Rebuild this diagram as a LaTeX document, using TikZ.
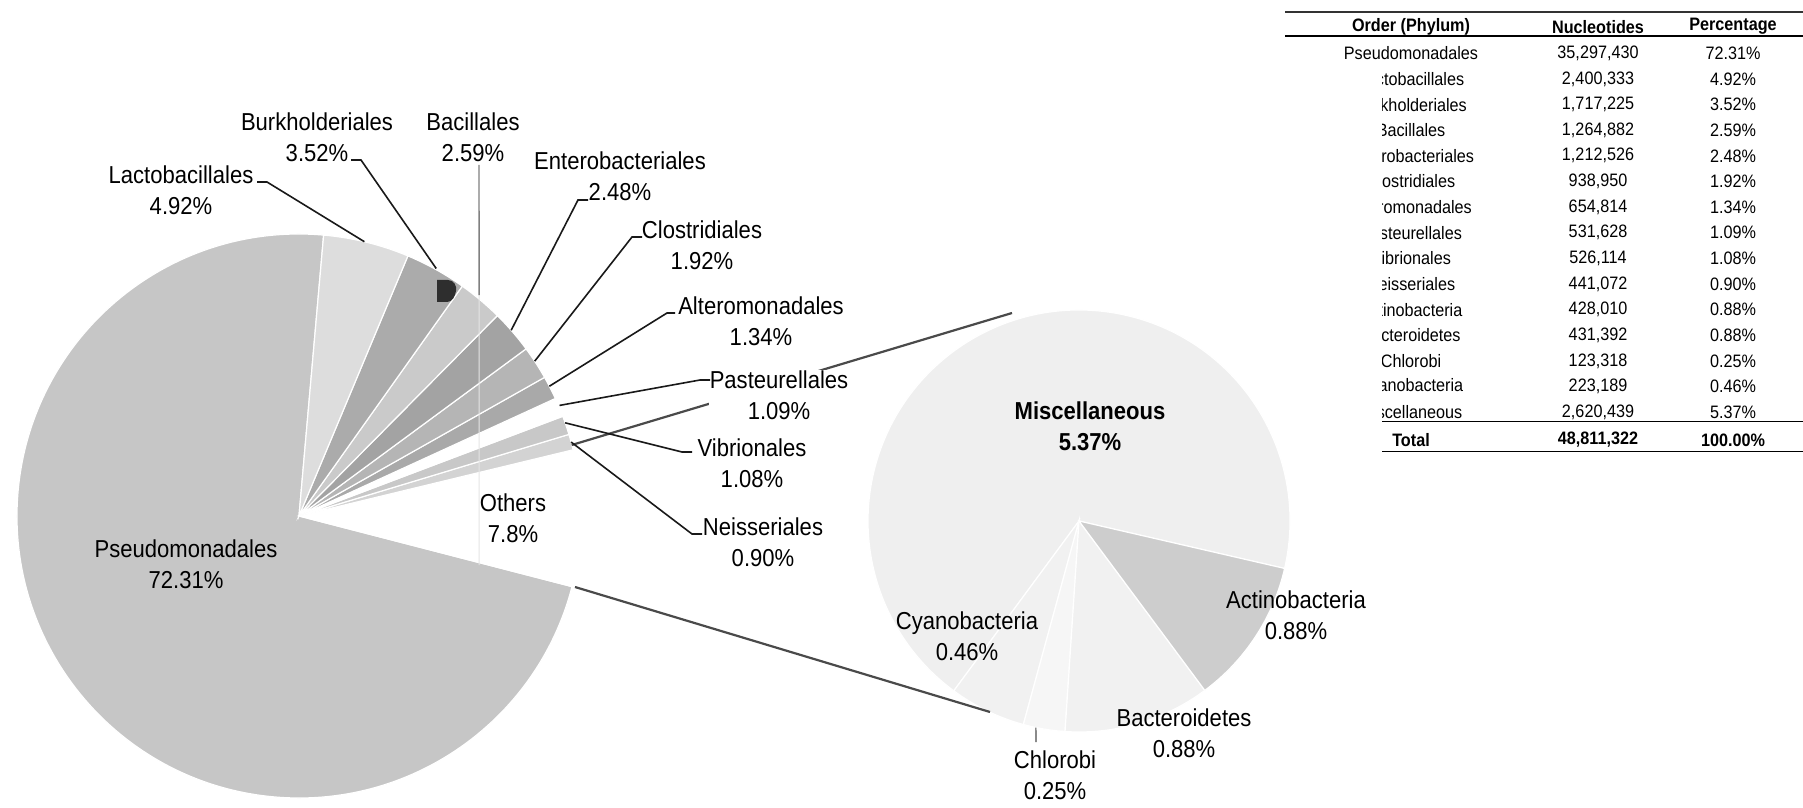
\documentclass[tikz,border=0pt]{standalone}
\usepackage{fontspec}
\setmainfont{Liberation Sans}[FakeStretch=0.9]
\usetikzlibrary{positioning}

\definecolor{pseudoGray}{HTML}{C6C6C6}
\definecolor{lactoGray}{HTML}{DDDDDD}
\definecolor{burkGray}{HTML}{ABABAB}
\definecolor{bacGray}{HTML}{CACACA}
\definecolor{enteroGray}{HTML}{A3A3A3}
\definecolor{clostGray}{HTML}{B5B5B5}
\definecolor{alteroGray}{HTML}{A9A9A9}
\definecolor{vibrioGray}{HTML}{C8C8C8}
\definecolor{neissGray}{HTML}{D3D3D3}
\definecolor{miscGray}{HTML}{EFEFEF}
\definecolor{cyanoGray}{HTML}{F1F1F1}
\definecolor{chlorGray}{HTML}{F6F6F6}
\definecolor{bactGray}{HTML}{F1F1F1}
\definecolor{actinoGray}{HTML}{CDCDCD}
\definecolor{blobGray}{HTML}{2E2E2E}
\definecolor{joinGray}{HTML}{4A4A4A}

\begin{document}
\begin{tikzpicture}[x=1pt, y=1pt,
        lbl/.style={align=center, inner sep=1pt, font=\fontsize{24.5}{31}\selectfont},
        outlbl/.style={lbl, fill=white},
        slice/.style={draw=white, line width=1.2pt},
        leader/.style={line width=1.6pt, black!90},
        joinline/.style={line width=2.2pt, joinGray},
        tbl/.style={inner sep=0pt, font=\fontsize{18}{20}\selectfont},
        tblh/.style={tbl, font=\fontsize{18}{20}\selectfont\bfseries}
        ]
        \useasboundingbox (0,0) rectangle (1803,807);
        \coordinate (mc) at (299,291);
        \coordinate (sc) at (1079,286);

        % main pie
        \filldraw[slice, fill=pseudoGray] (mc) -- ++(84.99:282) arc[start angle=84.99, end angle=345.5, radius=282] -- cycle;
        \filldraw[slice, fill=white] (mc) -- ++(-14.5:282) arc[start angle=-14.5, end angle=13.58, radius=282] -- cycle;
        \filldraw[slice, fill=neissGray] (mc) -- ++(13.58:282) arc[start angle=13.58, end angle=16.82, radius=282] -- cycle;
        \filldraw[slice, fill=vibrioGray] (mc) -- ++(16.82:282) arc[start angle=16.82, end angle=20.71, radius=282] -- cycle;
        \filldraw[slice, fill=white] (mc) -- ++(20.71:282) arc[start angle=20.71, end angle=24.63, radius=282] -- cycle;
        \filldraw[slice, fill=alteroGray] (mc) -- ++(24.63:282) arc[start angle=24.63, end angle=29.45, radius=282] -- cycle;
        \filldraw[slice, fill=clostGray] (mc) -- ++(29.45:282) arc[start angle=29.45, end angle=36.36, radius=282] -- cycle;
        \filldraw[slice, fill=enteroGray] (mc) -- ++(36.36:282) arc[start angle=36.36, end angle=45.29, radius=282] -- cycle;
        \filldraw[slice, fill=bacGray] (mc) -- ++(45.29:282) arc[start angle=45.29, end angle=54.61, radius=282] -- cycle;
        \filldraw[slice, fill=burkGray] (mc) -- ++(54.61:282) arc[start angle=54.61, end angle=67.28, radius=282] -- cycle;
        \filldraw[slice, fill=lactoGray] (mc) -- ++(67.28:282) arc[start angle=67.28, end angle=84.99, radius=282] -- cycle;
        \fill[blobGray] (437,527) -- (448,527) .. controls (454,527) and (457,521) .. (456,516) .. controls (455,510) and (452,505) .. (447,505) -- (437,505) -- cycle;

        % second pie
        \filldraw[slice, fill=miscGray] (sc) -- ++(-13:211) arc[start angle=-13, end angle=233.6, radius=211] -- cycle;
        \filldraw[slice, fill=cyanoGray] (sc) -- ++(233.6:211) arc[start angle=233.6, end angle=254.7, radius=211] -- cycle;
        \filldraw[slice, fill=chlorGray] (sc) -- ++(254.7:211) arc[start angle=254.7, end angle=266.2, radius=211] -- cycle;
        \filldraw[slice, fill=bactGray] (sc) -- ++(266.2:211) arc[start angle=266.2, end angle=306.6, radius=211] -- cycle;
        \filldraw[slice, fill=actinoGray] (sc) -- ++(306.6:211) arc[start angle=306.6, end angle=347, radius=211] -- cycle;

        \coordinate (othU) at (571.7,362);
        \coordinate (othL) at (575,220);
        \coordinate (secU) at (1012,494);
        \coordinate (secL) at (990,95);
        \draw[joinline] (othU) -- (secU);
        \draw[joinline] (othL) -- (secL);

        \node[lbl] (pseudo) at (186,242.8) {Pseudomonadales\\72.31\%};
        \node[lbl] (others) at (513,288.7) {Others\\7.8\%};
        \node[outlbl] (lacto) at (181,617) {Lactobacillales\\4.92\%};
        \node[outlbl] (burk) at (317,669.6) {Burkholderiales\\3.52\%};
        \node[outlbl] (bac) at (473,669.6) {Bacillales\\2.59\%};
        \node[outlbl] (entero) at (620,631.1) {Enterobacteriales\\2.48\%};
        \node[outlbl] (clost) at (702,562) {Clostridiales\\1.92\%};
        \node[outlbl] (altero) at (761,486.1) {Alteromonadales\\1.34\%};
        \node[outlbl] (paste) at (779,412) {Pasteurellales\\1.09\%};
        \node[outlbl] (vibrio) at (752,343.7) {Vibrionales\\1.08\%};
        \node[outlbl] (neiss) at (763,264.5) {Neisseriales\\0.90\%};

        \node[lbl, font=\fontsize{24.5}{31}\selectfont\bfseries] (misc) at (1090,381.1) {Miscellaneous\\5.37\%};
        \node[lbl] (actino) at (1296,192) {Actinobacteria\\0.88\%};
        \node[lbl] (cyano) at (967,171.1) {Cyanobacteria\\0.46\%};
        \node[lbl] (bacter) at (1184,73.7) {Bacteroidetes\\0.88\%};
        \node[lbl] (chlor) at (1055,32) {Chlorobi\\0.25\%};

        % leader lines
        \coordinate (lactoT) at (257,625);
        \coordinate (burkT) at (351,647);
        \coordinate (bacT) at (479,642);
        \coordinate (bacB) at (479,242);
        \coordinate (enteroT) at (588,607);
        \coordinate (clostT) at (642,570);
        \coordinate (alteroT) at (675,494);
        \coordinate (pasteT) at (710,427);
        \coordinate (vibrioT) at (692,355);
        \coordinate (neissT) at (702,273);
        \coordinate (chlorT) at (1036,65);
        \draw[line width=1pt, black!10] ([shift={(mc)}]50.8:285) -- (bacB);
        \draw[leader] (lactoT) -- ++(10,0) -- ([shift={(mc)}]76.6:282);
        \draw[leader] (burkT) -- ++(10,0) -- ([shift={(mc)}]61:283);
        \draw[line width=1.4pt, black!50] (bacT) -- ([shift={(mc)}]50.8:285);
        \draw[leader] (enteroT) -- ++(-10,0) -- ([shift={(mc)}]41.2:282);
        \draw[leader] (clostT) -- ++(-10,0) -- ([shift={(mc)}]33.3:282);
        \draw[leader] (alteroT) -- ++(-8,0) -- ([shift={(mc)}]27.4:282);
        \draw[leader] (pasteT) -- ++(-10,0) -- ([shift={(mc)}]23:283);
        \draw[leader] (vibrioT) -- ++(-10,0) -- ([shift={(mc)}]19.3:282);
        \draw[leader] (neissT) -- ++(-10,0) -- ([shift={(mc)}]15.2:282);
        \draw[line width=1.2pt, black!70] (chlorT) -- ([shift={(sc)}]258.2:211);

        % table
        \draw[line width=2pt, black!80] (1285,795.3) -- (1803,795.3);
        \draw[line width=1.8pt] (1285,771) -- (1803,771);
        \node[tblh] (hOrder) at (1411,780.3) {Order (Phylum)};
        \node[tblh] (hNucl) at (1598,780.3) {Nucleotides};
        \node[tblh] (hPerc) at (1733,780.3) {Percentage};
        \node[tbl] (nm1) at (1411,753.7) {Pseudomonadales};
        \node[tbl] (nu1) at (1598,753.7) {35,297,430};
        \node[tbl] (pc1) at (1733,753.7) {72.31\%};
        \begin{scope}
            \clip (1382,340) rectangle (1803,742);
            \foreach \nm/\nu/\pc [count=\i from 2] in {Lactobacillales/{2,400,333}/4.92\%,
                    Burkholderiales/{1,717,225}/3.52\%, Bacillales/{1,264,882}/2.59\%,
                    Enterobacteriales/{1,212,526}/2.48\%, Clostridiales/{938,950}/1.92\%,
                    Alteromonadales/{654,814}/1.34\%, Pasteurellales/{531,628}/1.09\%,
                    Vibrionales/{526,114}/1.08\%, Neisseriales/{441,072}/0.90\%,
                    Actinobacteria/{428,010}/0.88\%, Bacteroidetes/{431,392}/0.88\%,
                    Chlorobi/{123,318}/0.25\%, Cyanobacteria/{223,189}/0.46\%,
                    Miscellaneous/{2,620,439}/5.37\%} {
                \node[tbl] (nm\i) at (1411,{753.7-25.64*(\i-1)}) {\nm};
                \node[tbl] (nu\i) at (1598,{753.7-25.64*(\i-1)}) {\nu};
                \node[tbl] (pc\i) at (1733,{753.7-25.64*(\i-1)}) {\pc};
            }
            \draw[line width=1.4pt] (1285,385.3) -- (1803,385.3);
            \draw[line width=1.4pt] (1285,355.3) -- (1803,355.3);
        \end{scope}
        \node[tblh] (tot1) at (1411,367) {Total};
        \node[tblh] (tot2) at (1598,367) {48,811,322};
        \node[tblh] (tot3) at (1733,367) {100.00\%};
    \end{tikzpicture}
\end{document}
